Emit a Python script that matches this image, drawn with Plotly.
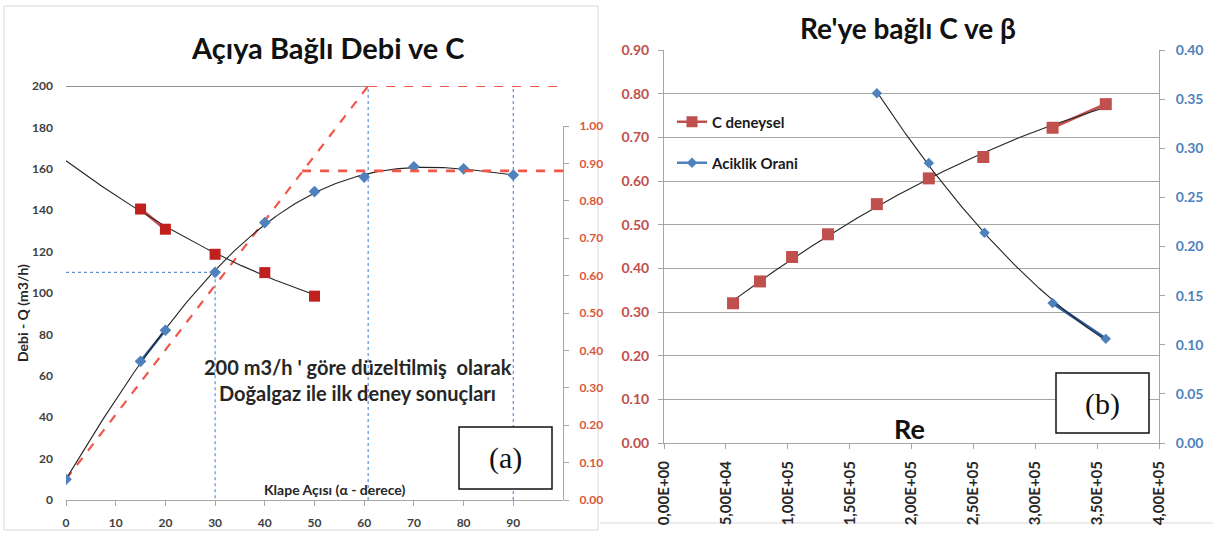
import numpy as np
import plotly.graph_objects as go

W, H = 1213, 533

# ---------------- Left panel data ----------------
angle = [0, 15, 20, 30, 40, 50, 60, 70, 80, 90]
debi = [10, 67, 82, 110, 134, 149, 156, 161, 160, 157]
c_angle = [15, 20, 30, 40, 50]
c_value = [0.778, 0.724, 0.657, 0.608, 0.545]
left_xticks = [0, 10, 20, 30, 40, 50, 60, 70, 80, 90]
left_yticks = [0, 20, 40, 60, 80, 100, 120, 140, 160, 180, 200]
left_grid = [20, 40, 60, 80, 100, 120, 140, 160, 180]
right_yticks = [0.0, 0.1, 0.2, 0.3, 0.4, 0.5, 0.6, 0.7, 0.8, 0.9, 1.0]

# reference / guide lines (left panel)
ideal_angle = [0, 60.8]
ideal_debi = [10, 200]
full_angle = [60.8, 100]
full_debi = [200, 200]
plateau_angle = [47.5, 100]
plateau_c = [0.88, 0.88]
guide30_x = [0, 30, 30]
guide30_y = [110, 110, 0]
guide60_x = [60.8, 60.8]
guide90_x = [90, 90]
guide_full_y = [0, 200]

# ---------------- Right panel data ----------------
re_c = [5.58e4, 7.76e4, 1.035e5, 1.325e5, 1.72e5, 2.14e5, 2.58e5, 3.14e5, 3.57e5]
c_re = [0.320, 0.370, 0.426, 0.478, 0.547, 0.606, 0.655, 0.722, 0.776]
re_b = [1.72e5, 2.14e5, 2.59e5, 3.14e5, 3.57e5]
beta = [0.356, 0.285, 0.214, 0.1425, 0.106]
re_ticks = [0, 5e4, 1e5, 1.5e5, 2e5, 2.5e5, 3e5, 3.5e5, 4e5]
re_ticktext = ["0,00E+00", "5,00E+04", "1,00E+05", "1,50E+05", "2,00E+05",
               "2,50E+05", "3,00E+05", "3,50E+05", "4,00E+05"]
c_ticks = [0, 0.1, 0.2, 0.3, 0.4, 0.5, 0.6, 0.7, 0.8, 0.9]
b_ticks = [0, 0.05, 0.1, 0.15, 0.2, 0.25, 0.3, 0.35, 0.4]

RED = "#C0504D"
BLUE = "#4F81BD"
DBLUE = "#2B5B9B"
DASHRED = "#F0564A"
GRID = "#A6A6A6"
FONT = "Lato"

def px(x):
    return x / W

def py(y):
    return 1 - y / H

fig = go.Figure()

# ---- trendlines (polynomial fits of the data, like Excel trendlines)
q_fit = np.poly1d(np.polyfit(angle, debi, 4))
q_x = np.linspace(0, 90, 200)
c_fit = np.poly1d(np.polyfit(c_angle, c_value, 2))
c_x = np.linspace(0, 50, 120)
rc_fit = np.poly1d(np.polyfit(re_c, c_re, 2))
rc_x = np.linspace(re_c[0], re_c[-1], 150)
rb_fit = np.poly1d(np.polyfit(re_b, beta, 2))
rb_x = np.linspace(re_b[0], re_b[-1], 150)

# ---------------- Left panel traces ----------------
fig.add_trace(go.Scatter(x=guide30_x, y=guide30_y, mode="lines",
                         line=dict(color="#5B8FD6", width=1.2, dash="dot"),
                         xaxis="x", yaxis="y", showlegend=False))
for gx in (guide60_x, guide90_x):
    fig.add_trace(go.Scatter(x=gx, y=guide_full_y, mode="lines",
                             line=dict(color="#5B8FD6", width=1.2, dash="dot"),
                             xaxis="x", yaxis="y", showlegend=False))
fig.add_trace(go.Scatter(x=[0, ideal_angle[1]], y=[200, 200], mode="lines",
                         line=dict(color="#6E6E6E", width=1.6),
                         xaxis="x", yaxis="y", showlegend=False))
fig.add_trace(go.Scatter(x=ideal_angle, y=ideal_debi, mode="lines",
                         line=dict(color=DASHRED, width=2.2, dash="dash"),
                         xaxis="x", yaxis="y", showlegend=False))
fig.add_trace(go.Scatter(x=full_angle, y=full_debi, mode="lines",
                         line=dict(color=DASHRED, width=2.2, dash="dash"),
                         xaxis="x", yaxis="y", showlegend=False))
fig.add_trace(go.Scatter(x=plateau_angle, y=plateau_c, mode="lines",
                         line=dict(color=DASHRED, width=2.6, dash="dash"),
                         xaxis="x", yaxis="y2", showlegend=False))
# series segments
fig.add_trace(go.Scatter(x=angle[1:3], y=debi[1:3], mode="lines",
                         line=dict(color=DBLUE, width=2.6),
                         xaxis="x", yaxis="y", showlegend=False))
fig.add_trace(go.Scatter(x=c_angle[0:2], y=c_value[0:2], mode="lines",
                         line=dict(color=RED, width=3),
                         xaxis="x", yaxis="y2", showlegend=False))
# trendlines
fig.add_trace(go.Scatter(x=q_x, y=q_fit(q_x), mode="lines",
                         line=dict(color="#262626", width=1.1),
                         xaxis="x", yaxis="y", showlegend=False))
fig.add_trace(go.Scatter(x=c_x, y=c_fit(c_x), mode="lines",
                         line=dict(color="#262626", width=1.1),
                         xaxis="x", yaxis="y2", showlegend=False))
# markers
fig.add_trace(go.Scatter(x=angle, y=debi, mode="markers",
                         marker=dict(symbol="diamond", size=9, color=BLUE),
                         xaxis="x", yaxis="y", showlegend=False))
fig.add_trace(go.Scatter(x=c_angle, y=c_value, mode="markers",
                         marker=dict(symbol="square", size=11, color="#C0201E"),
                         xaxis="x", yaxis="y2", showlegend=False))

# ---------------- Right panel traces ----------------
fig.add_trace(go.Scatter(x=re_c[7:9], y=c_re[7:9], mode="lines",
                         line=dict(color=RED, width=3),
                         xaxis="x3", yaxis="y3", showlegend=False))
fig.add_trace(go.Scatter(x=re_b[3:5], y=beta[3:5], mode="lines",
                         line=dict(color=DBLUE, width=3),
                         xaxis="x3", yaxis="y4", showlegend=False))
fig.add_trace(go.Scatter(x=rc_x, y=rc_fit(rc_x), mode="lines",
                         line=dict(color="#262626", width=1.1),
                         xaxis="x3", yaxis="y3", showlegend=False))
fig.add_trace(go.Scatter(x=rb_x, y=rb_fit(rb_x), mode="lines",
                         line=dict(color="#262626", width=1.1),
                         xaxis="x3", yaxis="y4", showlegend=False))
fig.add_trace(go.Scatter(x=re_c, y=c_re, mode="markers",
                         marker=dict(symbol="square", size=12, color=RED),
                         xaxis="x3", yaxis="y3", showlegend=False))
fig.add_trace(go.Scatter(x=re_b, y=beta, mode="markers",
                         marker=dict(symbol="diamond", size=8, color=BLUE),
                         xaxis="x3", yaxis="y4", showlegend=False))
# legend entries (line + marker, as in the Excel legend)
fig.add_trace(go.Scatter(x=[None], y=[None], mode="lines+markers", name="C deneysel",
                         marker=dict(symbol="square", size=11, color=RED),
                         line=dict(color=RED, width=2.5),
                         xaxis="x3", yaxis="y3", showlegend=True, legend="legend"))
fig.add_trace(go.Scatter(x=[None], y=[None], mode="lines+markers", name="Aciklik Orani",
                         marker=dict(symbol="diamond", size=8, color=BLUE),
                         line=dict(color=BLUE, width=2.5),
                         xaxis="x3", yaxis="y4", showlegend=True, legend="legend2"))

axfont = dict(family=FONT, size=12, color="#404040", weight="bold")

fig.update_layout(
    width=W, height=H,
    margin=dict(l=0, r=0, t=0, b=0, autoexpand=False),
    paper_bgcolor="white", plot_bgcolor="rgba(0,0,0,0)",
    font=dict(family=FONT),
    xaxis=dict(domain=[px(66), px(563)], range=[0, 100], anchor="y", automargin=False,
               tickvals=left_xticks, tickfont=axfont, showgrid=False,
               zeroline=False, showline=True, linecolor=GRID, linewidth=1,
               ticks="outside", ticklen=5, tickcolor=GRID, ticklabelstandoff=7),
    yaxis=dict(domain=[py(500), py(86)], range=[0, 200], anchor="x", automargin=False,
               tickvals=left_yticks, tickfont=axfont, showgrid=False,
               zeroline=False, showline=False, ticks="", ticklabelstandoff=12),
    yaxis5=dict(domain=[py(500), py(86)], range=[0, 200], anchor="x", automargin=False,
                overlaying="y", tickvals=left_grid, showgrid=True,
                gridcolor=GRID, gridwidth=1, showticklabels=False,
                zeroline=False, showline=False),
    yaxis6=dict(domain=[py(500), py(126)], range=[0, 1], anchor="x", automargin=False,
                side="left", showline=True, linecolor=GRID, linewidth=1,
                showticklabels=False, showgrid=False, zeroline=False,
                ticks="outside", tickvals=right_yticks[1:], ticklen=4, tickcolor=GRID),
    yaxis2=dict(domain=[py(500), py(126)], range=[0, 1.0], anchor="x", automargin=False,
                side="right", tickvals=right_yticks, tickformat=".2f",
                tickfont=dict(family=FONT, size=12, color="#D9583B", weight="bold"),
                showgrid=False, zeroline=False, showline=True, linecolor=GRID,
                ticks="outside", ticklen=5, tickcolor=GRID, ticklabelstandoff=8),
    xaxis3=dict(domain=[px(664), px(1159)], range=[0, 4e5], anchor="y3", automargin=False,
                tickvals=re_ticks, ticktext=re_ticktext, tickangle=-90,
                tickfont=dict(family=FONT, size=15, color="#262626", weight="bold"),
                showgrid=False, zeroline=False, showline=True, linecolor=GRID,
                ticks="outside", ticklen=5, tickcolor=GRID, ticklabelstandoff=6),
    yaxis3=dict(domain=[py(443), py(50)], range=[0, 0.9], anchor="x3", automargin=False,
                tickvals=c_ticks, tickformat=".2f",
                tickfont=dict(family=FONT, size=14, color="#C0504D", weight="bold"),
                showgrid=True, gridcolor=GRID, zeroline=False, showline=True,
                linecolor=GRID, ticks="outside", ticklen=5, tickcolor=GRID,
                ticklabelstandoff=6),
    yaxis4=dict(domain=[py(443), py(50)], range=[0, 0.4], anchor="x3", automargin=False,
                overlaying="y3", side="right", tickvals=b_ticks, tickformat=".2f",
                tickfont=dict(family=FONT, size=14, color="#4F81BD", weight="bold"),
                showgrid=False, zeroline=False, showline=True, linecolor=GRID,
                ticks="outside", ticklen=5, tickcolor=GRID, ticklabelstandoff=8),
    legend=dict(x=px(672), y=py(122), xanchor="left", yanchor="middle",
                bgcolor="rgba(0,0,0,0)", itemwidth=30,
                font=dict(family=FONT, size=15, color="#1a1a1a", weight="bold")),
    legend2=dict(x=px(672), y=py(163), xanchor="left", yanchor="middle",
                 bgcolor="rgba(0,0,0,0)", itemwidth=30,
                 font=dict(family=FONT, size=15, color="#1a1a1a", weight="bold")),
)

ann = []
ann.append(dict(text="Açıya Bağlı Debi ve C", x=px(328), y=py(48),
                font=dict(family=FONT, size=29, color="#111111", weight="bold")))
ann.append(dict(text="Re'ye bağlı C ve β", x=px(908), y=py(28),
                font=dict(family=FONT, size=28, color="#111111", weight="bold")))
ann.append(dict(text="Debi - Q (m3/h)", x=px(22), y=py(313), textangle=-90,
                font=dict(family=FONT, size=14, color="#262626", weight="bold")))
ann.append(dict(text="200 m3/h ' göre düzeltilmiş  olarak", x=px(358), y=py(367),
                font=dict(family=FONT, size=20, color="#262626", weight="bold")))
ann.append(dict(text="Doğalgaz ile ilk deney sonuçları", x=px(357), y=py(393),
                font=dict(family=FONT, size=20, color="#262626", weight="bold")))
ann.append(dict(text="Klape Açısı (α - derece)", x=px(335), y=py(490),
                font=dict(family=FONT, size=14, color="#262626", weight="bold")))
ann.append(dict(text="(a)", x=px(505), y=py(458),
                font=dict(family="Liberation Serif", size=30, color="#111111")))
ann.append(dict(text="(b)", x=px(1102), y=py(404),
                font=dict(family="Liberation Serif", size=30, color="#111111")))
ann.append(dict(text="Re", x=px(909), y=py(428),
                font=dict(family=FONT, size=27, color="#111111", weight="bold")))
for a in ann:
    a.update(xref="paper", yref="paper", showarrow=False,
             xanchor="center", yanchor="middle")
fig.update_layout(annotations=ann)

shapes = [
    dict(type="rect", xref="paper", yref="paper", x0=px(459), x1=px(552),
         y0=py(489), y1=py(427), line=dict(color="#111111", width=1.5),
         fillcolor="white", layer="above"),
    dict(type="rect", xref="paper", yref="paper", x0=px(1056), x1=px(1149),
         y0=py(433), y1=py(373), line=dict(color="#111111", width=1.5),
         fillcolor="white", layer="above"),
    dict(type="rect", xref="paper", yref="paper", x0=px(4), x1=px(598),
         y0=py(530), y1=py(6), line=dict(color="#D9D9D9", width=1), layer="below"),
    dict(type="line", xref="paper", yref="paper", x0=px(600), x1=px(1213),
         y0=py(523), y1=py(523), line=dict(color="#D9D9D9", width=1), layer="below"),
]
fig.update_layout(shapes=shapes)

fig.write_html(
    "out.html",
    config={"displayModeBar": False},
    post_script="document.body.style.margin='0px';document.body.style.overflow='hidden';",
)
